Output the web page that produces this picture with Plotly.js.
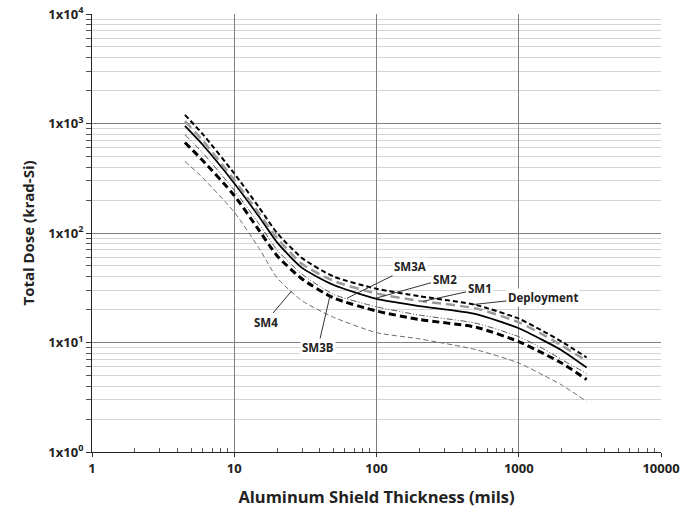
<!DOCTYPE html>
<html>
<head>
<meta charset="utf-8">
<script src="https://cdn.plot.ly/plotly-3.0.1.min.js"></script>
<style>html,body{margin:0;padding:0;background:#fff;}#chart{width:699px;height:510px;}</style>
</head>
<body>
<div id="chart"></div>
<script>
// Shield thickness (mils)
const thickness = [4.5, 6, 10, 15, 20, 30, 50, 100, 200, 500, 1000, 1500, 2000, 3000];
// Total dose (krad-Si) for each mission phase
const deployment = [1200, 800, 350, 170, 100, 59, 40, 31, 26.5, 22, 16.5, 12.6, 10.2, 7.3];
const sm1 = [1050, 700, 305, 150, 90, 52, 36.5, 28, 24, 20.5, 15.3, 11.7, 9.4, 6.8];
const sm2 = [950, 640, 285, 140, 82, 48, 33.5, 25, 21.5, 18.2, 13.5, 10.4, 8.5, 5.9];
const sm3a = [790, 540, 245, 120, 70, 42, 27.5, 21.2, 17.8, 15, 11.3, 8.7, 7.0, 5.2];
const sm3b = [670, 460, 220, 105, 62, 38, 25.5, 19.4, 16.2, 13.8, 10.2, 7.9, 6.5, 4.6];
const sm4 = [450, 320, 155, 72, 39, 24, 17, 12.3, 10.8, 8.6, 6.5, 5.0, 4.1, 2.9];

const xTickVals = [1, 10, 100, 1000, 10000];
const xTickText = ['1', '10', '100', '1000', '10000'];
const yTickVals = [1, 10, 100, 1000, 10000];
const yTickText = ['1x10<sup>0</sup>', '1x10<sup>1</sup>', '1x10<sup>2</sup>', '1x10<sup>3</sup>', '1x10<sup>4</sup>'];

const minorX = [], minorY = [];
for (let d = 0; d < 4; d++) for (let m = 2; m <= 9; m++) { minorX.push(m * Math.pow(10, d)); minorY.push(m * Math.pow(10, d)); }

const F = 'Open Sans, Arial, sans-serif';
const M = {l: 92, r: 38, t: 14, b: 58}, W = 699, H = 510;
const plotW = W - M.l - M.r, plotH = H - M.t - M.b;

function tr(name, y, color, width, dash) {
  return {x: thickness, y: y, name: name, mode: 'lines', type: 'scatter',
    line: {color: color, width: width, dash: dash, shape: 'spline', smoothing: 0.6}};
}
const data = [
  tr('SM4', sm4, '#6a6a6a', 1, '5px,3px'),
  tr('SM3B', sm3b, '#000000', 3, '7px,4px'),
  tr('SM3A', sm3a, '#555555', 1, '6px,2px,1px,2px,1px,2px'),
  tr('SM2', sm2, '#000000', 1.8, 'solid'),
  tr('SM1', sm1, '#9a9a9a', 2.5, '9px,5px'),
  tr('Deployment', deployment, '#000000', 2, '5px,3px')
];

// point on a series (log-log interpolation) where a label's leader line touches it
function at(ys, lx) {
  for (let i = 0; i < thickness.length - 1; i++) {
    const a = Math.log10(thickness[i]), b = Math.log10(thickness[i + 1]);
    if (lx >= a && lx <= b) {
      const t = (lx - a) / (b - a);
      return Math.log10(ys[i]) * (1 - t) + Math.log10(ys[i + 1]) * t;
    }
  }
  return Math.log10(ys[ys.length - 1]);
}
// tipPx: horizontal pixel of the leader tip; (lx, ly): label centre in pixels
function lab(text, ys, tipPx, lx, ly) {
  const xl = (tipPx - M.l) / plotW * 4;
  const yl = at(ys, xl);
  const tipY = M.t + plotH * (1 - yl / 4);
  return {x: xl, y: yl, xref: 'x', yref: 'y', text: '<b>' + text + '</b>',
    showarrow: true, arrowhead: 0, arrowwidth: 1, arrowcolor: '#333', ax: lx - tipPx, ay: ly - tipY,
    bgcolor: '#ffffff', borderpad: 1, font: {family: F, size: 11.5, color: '#222'}};
}
const annotations = [
  lab('SM3A', sm3a, 347, 410, 267),
  lab('SM2', sm2, 375, 444.5, 279),
  lab('SM1', sm1, 423, 479.5, 289),
  lab('Deployment', deployment, 473, 543, 297),
  lab('SM4', sm4, 291.5, 265.5, 322),
  lab('SM3B', sm3b, 330, 318, 347.5)
];

const layout = {
  width: W, height: H,
  margin: M,
  paper_bgcolor: '#ffffff', plot_bgcolor: '#ffffff',
  showlegend: false,
  font: {family: F, color: '#222'},
  xaxis: {type: 'log', range: [0, 4], tickmode: 'array', tickvals: xTickVals, ticktext: xTickText,
    tickfont: {family: F, size: 13, color: '#222', weight: 'bold'},
    showgrid: true, gridcolor: '#7f7f7f', gridwidth: 1,
    ticks: 'outside', ticklen: 4, tickcolor: '#333',
    showline: true, linecolor: '#222', linewidth: 1, zeroline: false,
    minor: {tickmode: 'array', tickvals: minorX, ticks: 'inside', ticklen: 4, tickcolor: '#555', showgrid: false},
    title: {text: '<b>Aluminum Shield Thickness (mils)</b>', font: {family: F, size: 16.5, color: '#222'}, standoff: 15}},
  yaxis: {type: 'log', range: [0, 4], tickmode: 'array', tickvals: yTickVals, ticktext: yTickText,
    tickfont: {family: F, size: 13, color: '#222', weight: 'bold'},
    showgrid: true, gridcolor: '#7f7f7f', gridwidth: 1,
    ticks: 'outside', ticklen: 5, tickcolor: '#333',
    showline: true, linecolor: '#222', linewidth: 1, zeroline: false,
    minor: {tickmode: 'array', tickvals: minorY, ticks: 'outside', ticklen: 5, tickcolor: '#555', showgrid: true, gridcolor: '#d4d4d4', gridwidth: 1},
    title: {text: '<b>Total Dose (krad-Si)</b>', font: {family: F, size: 15, color: '#222'}, standoff: 10}},
  annotations: annotations
};
Plotly.newPlot('chart', data, layout, {staticPlot: true, displayModeBar: false});
</script>
</body>
</html>
